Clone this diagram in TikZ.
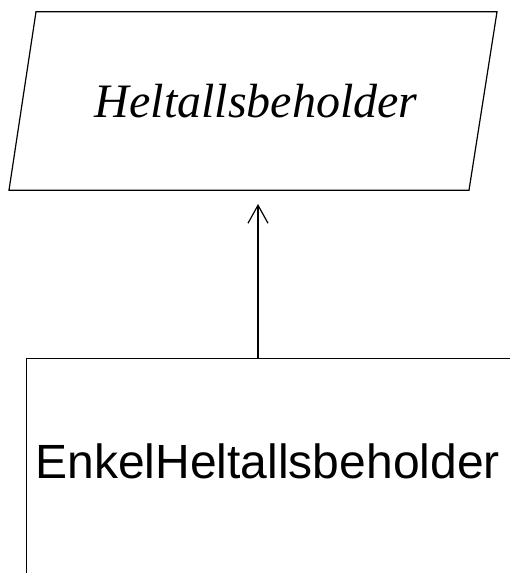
\documentclass[tikz,border=0pt]{standalone}
\usepackage{fontspec}
\setmainfont{Liberation Serif}
\setsansfont{Liberation Sans}
\usetikzlibrary{positioning, arrows.meta}

\tikzset{
  klasse/.style = {draw, line width=1.2pt},
  abstrakt/.style = {minimum height=178pt, inner sep=0pt,
    font=\fontsize{48}{50}\selectfont\itshape},
  konkret/.style = {klasse, rectangle, inner xsep=9pt, inner ysep=0pt,
    text width=500pt, align=left, text height=120pt, text depth=140pt,
    font=\fontsize{48}{50}\selectfont\sffamily},
  arv/.style = {line width=1.2pt, -{Straight Barb[length=18pt, width=20pt]}}
}

\begin{document}
\begin{tikzpicture}[x=1pt, y=1pt]
  \useasboundingbox (0,0) rectangle (510,573);
  \clip (0,0) rectangle (510,573);

  % abstrakt klasse (skraa kanter)
  \node[abstrakt] (helt) at (256,472) {Heltallsbeholder};
  \draw[klasse] ([xshift=-220pt]helt.north) -- ([xshift=241pt]helt.north)
    -- ([xshift=213pt]helt.south) -- ([xshift=-247pt]helt.south) -- cycle;

  \node[konkret, anchor=north west] (enkel) at (26,215) {EnkelHeltallsbeholder};

  \coordinate (arvtopp) at (258,369);
  \draw[arv] (enkel.north -| arvtopp) -- (arvtopp);
\end{tikzpicture}
\end{document}
